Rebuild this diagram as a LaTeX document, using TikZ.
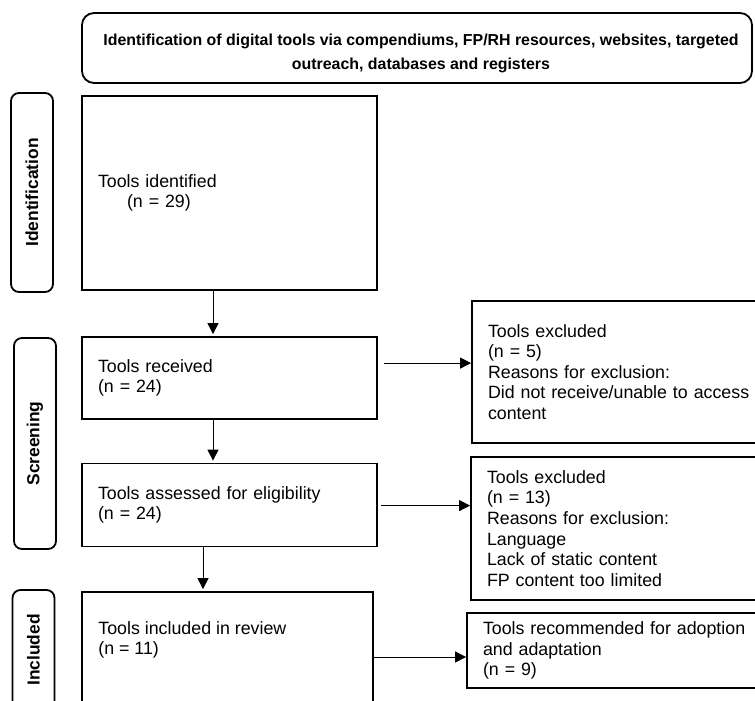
\documentclass[tikz,border=0pt]{standalone}
\usepackage{fontspec}
\setmainfont{Liberation Sans}
\usepackage{tikz}
\usetikzlibrary{arrows.meta,calc}
\newdimen\px \px=0.5pt
\tikzstyle{stage}=[draw, rounded corners=4pt, line width=0.9pt, rotate=90, minimum height=42\px, inner sep=0pt, font=\bfseries\fontsize{8.7}{10}\selectfont]
\tikzstyle{box}=[draw, line width=0.9pt, align=left, inner xsep=8pt, inner ysep=0pt, font=\fontsize{8.9}{10.3}\selectfont]
\tikzstyle{arr}=[-{Triangle[length=5.5pt,width=5.5pt]}, line width=0.5pt, draw=black]

\begin{document}
\begin{tikzpicture}[x=0.5pt,y=-0.5pt]
\useasboundingbox (0,0) rectangle (755,701);
\clip (0,0) rectangle (755,701);
\coordinate (spine) at (213,0);
\coordinate (spine2) at (203,0);
\node[draw, rounded corners=6pt, line width=0.9pt, minimum width=670\px, minimum height=70\px] (top) at (417,48) {};
\node[align=center, inner sep=0pt, font=\bfseries\fontsize{7.95}{12}\selectfont] (toptxt) at (421,53) {Identification of digital tools via compendiums, FP/RH resources, websites, targeted\\outreach, databases and registers};
\node[stage, minimum width=199\px] (idlab) at (32,192.5) {Identification};
\node[stage, minimum width=211\px] (sclab) at (35,443.5) {Screening};
\node[stage, minimum width=120\px] (inlab) at (33.5,650) {Included};
\node[box, text width=131.5pt, minimum height=194\px] (ident) at (229.5,193) {Tools identified\\\hspace*{14.5pt}(n = 29)};
\node[box, text width=131.5pt, minimum height=82\px] (recv) at (229.5,378) {Tools received\\(n = 24)};
\node[box, text width=131.5pt, minimum height=83\px] (assess) at (229.5,505) {Tools assessed for eligibility\\(n = 24)};
\node[box, minimum width=291\px, minimum height=130\px] (incl) at (227.5,657) {};
\node[anchor=north west, inner sep=0pt, align=left, font=\fontsize{8.9}{10.3}\selectfont] (incltxt) at (98,621) {Tools included in review\\(n = 11)};
\node[box, text width=135.5pt, minimum height=142\px] (excl1) at (623.5,372) {Tools excluded\\(n = 5)\\Reasons for exclusion:\\Did not receive/unable to access\\content};
\node[box, text width=136pt, minimum height=143\px] (excl2) at (623,528.5) {Tools excluded\\(n = 13)\\Reasons for exclusion:\\Language\\Lack of static content\\FP content too limited};
\node[box, text width=138pt, minimum height=75\px] (recom) at (621,650.5) {Tools recommended for adoption\\and adaptation\\(n = 9)};
\draw[arr, shorten >=1pt] (ident.south -| spine) -- (recv.north -| spine);
\draw[arr, shorten >=1pt] (recv.south -| spine) -- (assess.north -| spine);
\draw[arr, shorten >=1pt] (assess.south -| spine2) -- (incl.north -| spine2);
\draw[arr] ([shift={(6,27)}]recv.north east) coordinate (r1) -- (r1 -| excl1.west);
\draw[arr] ([shift={(3,43)}]assess.north east) coordinate (r2) -- (r2 -| excl2.west);
\draw[arr] (incl.east) -- (incl.east -| recom.west);
\end{tikzpicture}
\end{document}
